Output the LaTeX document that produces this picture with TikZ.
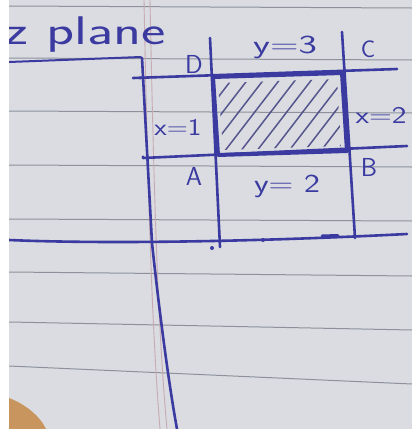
\documentclass[tikz,border=0pt]{standalone}
\usepackage{graphicx}
\definecolor{paper}{HTML}{DADCE1}
\definecolor{ink}{HTML}{3A3AA0}
\definecolor{hatchink}{HTML}{55558E}
\definecolor{rulecol}{HTML}{8C919B}
\definecolor{margincol}{HTML}{C8AAB2}
\definecolor{finger}{HTML}{C8955F}
\tikzset{
  axisline/.style={ink, line width=2.6pt},
  boxline/.style={ink, line width=4pt},
  hatchline/.style={hatchink, line width=1.5pt},
  ruled/.style={rulecol, line width=1pt},
  lbl/.style={ink, inner sep=0pt, font=\sffamily\fontsize{26}{26}\selectfont},
  smalllbl/.style={lbl, font=\sffamily\fontsize{24}{24}\selectfont},
  dotmark/.style={ink},
}
\begin{document}
\begin{tikzpicture}[x=1pt,y=-1pt,line cap=round,line join=round]
\useasboundingbox (0,0) rectangle (412,429);
\fill[paper] (0,0) rectangle (412,429);
% ruled paper lines
\foreach \yy in {6,58,111,165,219} \draw[ruled] (9,\yy) -- (412,\yy+2);
\draw[ruled] (9,272) -- (412,276);
\draw[ruled] (9,322) -- (412,330);
\draw[ruled] (9,366) -- (412,384);
% margin lines
\draw[margincol, line width=0.9pt] (144,0) .. controls (148,200) and (152,330) .. (160,429);
\draw[margincol, line width=0.9pt] (150,0) .. controls (154,200) and (158,330) .. (167,429);
% finger
\fill[finger] (9,398) .. controls (25,404) and (40,416) .. (46,429) -- (9,429) -- cycle;
% title
\node[ink, inner sep=0pt, font=\sffamily\fontsize{40}{40}\selectfont, anchor=base west] (title) at (4,44) {\scalebox{1.45}[1]{z plane}};
% coordinates
\coordinate (u0) at (9,62);
\coordinate (u1) at (141,57);
\coordinate (yt) at (142,58);
\coordinate (yo) at (152,243);
\coordinate (yb) at (177,429);
\coordinate (xl) at (9,240);
\coordinate (xr) at (407,234);
\coordinate (t0) at (133,78);
\coordinate (t1) at (397,69);
\coordinate (m0) at (143,158);
\coordinate (m1) at (407,146);
\coordinate (v1t) at (210,38);
\coordinate (v1b) at (220,247);
\coordinate (v2t) at (342,32);
\coordinate (v2b) at (355,238);
\coordinate (D) at (213,77);
\coordinate (C) at (342,73);
\coordinate (B) at (347,151);
\coordinate (A) at (218,155);
% underline of title
\draw[axisline, line width=2pt] (u0) -- (u1);
% axes
\draw[axisline] (yt) -- (yo) .. controls (158,300) and (168,380) .. (yb);
\draw[axisline] (xl) .. controls (100,244) and (250,242) .. (xr);
% grid lines
\draw[axisline] (t0) -- (t1);
\draw[axisline] (m0) -- (m1);
\draw[axisline] (v1t) -- (v1b);
\draw[axisline] (v2t) -- (v2b);
% hatching
\begin{scope}
\clip (218,83) -- (337,79) -- (341,146) -- (223,150) -- cycle;
\foreach \i in {0,...,13} \draw[hatchline] (150+\i*16,165) -- ++(100,-130);
\end{scope}
% shaded region border
\draw[boxline] (D) -- (C) -- (B) -- (A) -- cycle;
% dots and marks
\fill[dotmark] (212,248) circle (2);
\fill[dotmark] (263,240) circle (2);
\fill[dotmark] (143,157) circle (1.6);
\fill[dotmark] (140,78) circle (1.6);
\draw[ink, line width=3pt] (322,236) -- (338,235.5);
% labels
\node[lbl] (lD) at (194,64) {D};
\node[lbl] (ly3) at (285,47) {\scalebox{1.5}[1]{y=3}};
\node[smalllbl] (lC) at (368,49) {C};
\node[smalllbl] (lx1) at (178,127) {\scalebox{1.2}[1]{x=1}};
\node[smalllbl] (lx2) at (381,115) {\scalebox{1.3}[1]{x=2}};
\node[lbl] (lA) at (194,176) {A};
\node[lbl] (ly2) at (287,186) {\scalebox{1.3}[1]{y= 2}};
\node[lbl] (lB) at (369,167) {B};
% white strip at left edge
\fill[white] (0,0) rectangle (8.5,429);
\end{tikzpicture}
\end{document}
